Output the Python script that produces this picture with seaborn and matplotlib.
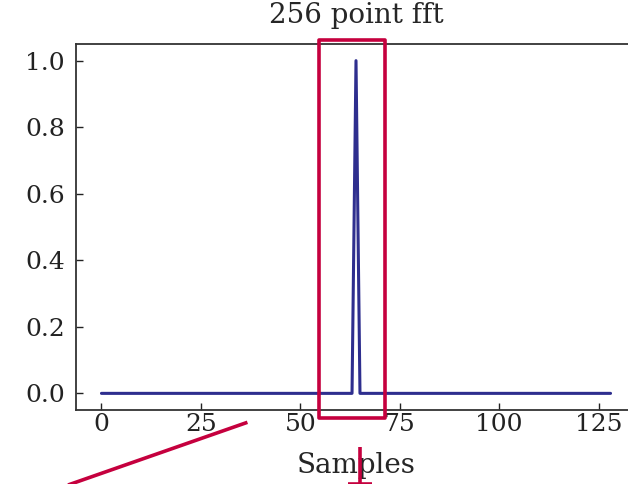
import numpy as np
import pandas as pd
import matplotlib
matplotlib.use("Agg")
import matplotlib.pyplot as plt
from matplotlib.patches import Rectangle
from matplotlib.lines import Line2D
import seaborn as sns

# 256-point FFT magnitude of a pure tone, first half of the spectrum
samples = list(range(129))
magnitude = [0.0] * 129
magnitude[64] = 1.0

x_ticks = [0, 25, 50, 75, 100, 125]
y_ticks = [0.0, 0.2, 0.4, 0.6, 0.8, 1.0]

# zoom box and callout lines (data units)
zoom_x = [54.6, 71.4]
zoom_y = [-0.075, 1.063]
callout_a = ([-9.5, 36.7], [-0.28, -0.087])
callout_b = ([65.1, 65.1], [-0.16, -0.28])
callout_c = ([62.0, 68.0], [-0.271, -0.271])

sns.set_theme(style="white")
plt.rcParams["font.family"] = ["DejaVu Serif"]

df = pd.DataFrame({"Samples": samples, "Magnitude": magnitude})

fig = plt.figure(figsize=(6.28, 4.84), dpi=100)
# the panel runs past the right edge of the canvas
ax = fig.add_axes([76 / 628, 1 - 410 / 484, 560 / 628, 366 / 484])

sns.lineplot(data=df, x="Samples", y="Magnitude", ax=ax,
             color="#2e2e8e", linewidth=2.2)

ax.set_xticks(x_ticks)
ax.set_yticks(y_ticks)
ax.set_xlim(-6.4, 134.4)
ax.set_ylim(-0.05, 1.05)
ax.tick_params(direction="in", length=5, width=1, labelsize=18,
               colors="#222222", left=True, bottom=True)
ax.tick_params(axis="y", pad=8)
ax.tick_params(axis="x", pad=2.5)
ax.set_ylabel("")
ax.set_xlabel("Samples", fontsize=20, labelpad=11.5)
ax.set_title("256 point fft", fontsize=20, pad=15)
for s in ax.spines.values():
    s.set_color("#333333")
    s.set_linewidth(1.3)

red = "#c5003e"
rect = Rectangle((zoom_x[0], zoom_y[0]), zoom_x[1] - zoom_x[0],
                 zoom_y[1] - zoom_y[0], fill=False, edgecolor=red,
                 linewidth=2.6, clip_on=False, joinstyle="round", zorder=5)
ax.add_patch(rect)
for xs, ys in (callout_a, callout_b, callout_c):
    ax.add_line(Line2D(xs, ys, color=red, linewidth=2.6, clip_on=False,
                       solid_capstyle="butt", zorder=5))

fig.savefig("out.png", dpi=100)
